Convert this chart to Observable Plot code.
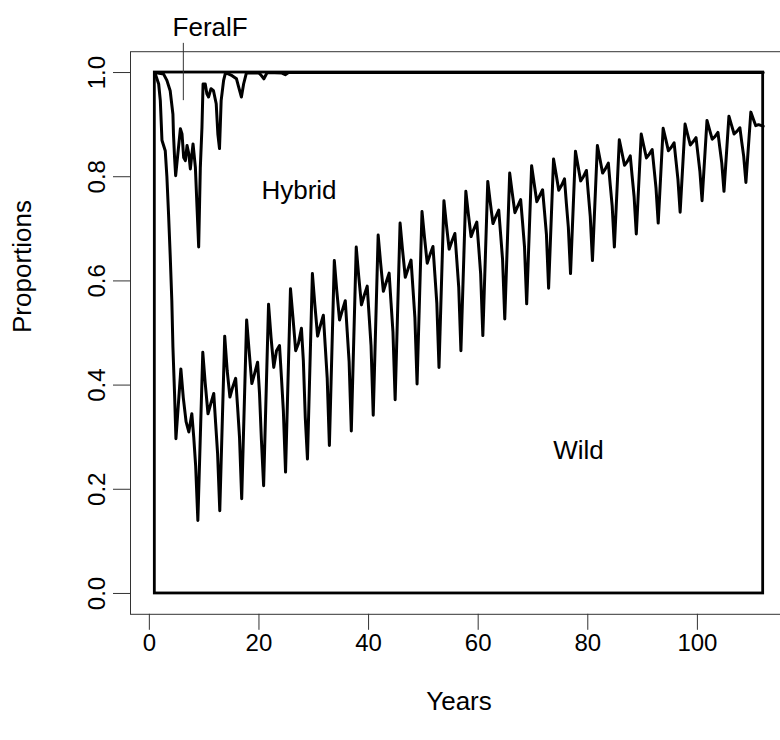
<!DOCTYPE html>
<html>
<head>
<meta charset="utf-8">
<script src="https://cdn.jsdelivr.net/npm/d3@7"></script>
<script src="https://cdn.jsdelivr.net/npm/@observablehq/plot@0.6"></script>
<style>
html, body { margin: 0; padding: 0; background: #fff; overflow: hidden; }
#chart svg { display: block; }
</style>
</head>
<body>
<div id="chart"></div>
<script>
// Tick labels
const xTicks = [0, 20, 40, 60, 80, 100];
const yTicks = [0, 0.2, 0.4, 0.6, 0.8, 1.0];

// Wild proportion: initial decline
const leadYear = [1, 1.7, 2.0, 2.3, 2.9, 3.2, 3.5, 3.8, 4.1, 4.3, 4.6];
const leadVal  = [1.0, 0.978, 0.946, 0.87, 0.85, 0.80, 0.729, 0.65, 0.562, 0.473, 0.383];

// Wild proportion: 4-year cycles (trough, then peak and the steps after it)
const troughYear = [4.85, 8.85, 12.85, 16.85, 20.85, 24.85, 28.85, 32.85, 36.85, 40.85, 44.85, 48.85, 52.85, 56.85, 60.85, 64.85, 68.85, 72.85, 76.85, 80.85, 84.85, 88.85, 92.85, 96.85, 100.85, 104.85, 108.85];
const troughVal = [0.297, 0.140, 0.159, 0.182, 0.207, 0.233, 0.258, 0.284, 0.312, 0.342, 0.372, 0.402, 0.434, 0.466, 0.495, 0.527, 0.556, 0.586, 0.614, 0.639, 0.665, 0.690, 0.711, 0.732, 0.754, 0.772, 0.789];
const peakVal   = [0.431, 0.463, 0.494, 0.525, 0.555, 0.585, 0.614, 0.639, 0.665, 0.688, 0.711, 0.733, 0.754, 0.772, 0.791, 0.807, 0.821, 0.834, 0.849, 0.860, 0.871, 0.882, 0.893, 0.901, 0.908, 0.916, 0.924];
const dropVal   = [0.375, 0.403, 0.428, 0.466, 0.492, 0.530, 0.554, 0.581, 0.609, 0.634, 0.659, 0.684, 0.708, 0.729, 0.751, 0.770, 0.788, 0.806, 0.822, 0.835, 0.848, 0.860, 0.873, 0.882, 0.891, 0.900];
const dipVal    = [0.330, 0.345, 0.377, 0.403, 0.434, 0.466, 0.494, 0.525, 0.554, 0.580, 0.607, 0.634, 0.661, 0.685, 0.710, 0.731, 0.752, 0.774, 0.792, 0.807, 0.822, 0.836, 0.850, 0.861, 0.872, 0.882];
const recVal    = [0.310, 0.364, 0.396, 0.422, 0.466, 0.480, 0.514, 0.543, 0.572, 0.597, 0.623, 0.650, 0.676, 0.699, 0.723, 0.743, 0.763, 0.783, 0.800, 0.815, 0.829, 0.843, 0.856, 0.867, 0.877, 0.887];
const bumpVal   = [0.345, 0.384, 0.413, 0.444, 0.476, 0.509, 0.534, 0.562, 0.590, 0.615, 0.640, 0.666, 0.691, 0.713, 0.736, 0.756, 0.775, 0.796, 0.812, 0.826, 0.840, 0.852, 0.865, 0.875, 0.885, 0.894];
const fall1Val  = [0.300, 0.326, 0.358, 0.384, 0.415, 0.447, 0.474, 0.503, 0.533, 0.558, 0.585, 0.612, 0.640, 0.664, 0.689, 0.712, 0.733, 0.748, 0.767, 0.784, 0.800, 0.815, 0.830, 0.843, 0.855, 0.866];
const fall2Val  = [0.245, 0.269, 0.300, 0.294, 0.351, 0.338, 0.414, 0.445, 0.476, 0.502, 0.530, 0.558, 0.588, 0.614, 0.641, 0.666, 0.690, 0.703, 0.724, 0.744, 0.762, 0.778, 0.795, 0.811, 0.826, 0.839];
// time after each trough at which peak, drop, dip, rec, bump, fall1, fall2 are sampled
const phaseOffset = [0.9, 1.35, 1.85, 2.35, 2.9, 3.25, 3.6];
// final partial cycle
const tailYear = [110.2, 110.65, 111.15, 112];
const tailVal  = [0.911, 0.898, 0.900, 0.897];

// Upper boundary (Wild + Hybrid), FeralF above it
const upperYear = [1, 2.6, 3.2, 3.8, 4.3, 4.4, 4.6, 4.8, 5.66, 5.96, 6.26, 6.57, 6.88, 7.2, 7.48, 7.97, 8.4, 8.7, 9.0, 9.3, 9.6, 9.8, 10.2, 10.5, 10.8, 11.25, 11.7, 12.2, 12.5, 12.8, 13.1, 13.55, 13.9, 14.5, 15.1, 15.9, 16.3, 16.8, 17.2, 17.7, 20.0, 20.3, 20.9, 21.5, 24.2, 24.8, 25.4, 112];
const upperVal  = [1.0, 0.997, 0.985, 0.965, 0.92, 0.882, 0.837, 0.802, 0.892, 0.882, 0.837, 0.831, 0.86, 0.844, 0.815, 0.863, 0.818, 0.741, 0.665, 0.818, 0.895, 0.978, 0.978, 0.959, 0.953, 0.969, 0.965, 0.94, 0.882, 0.854, 0.946, 0.985, 1.0, 0.997, 0.994, 0.988, 0.972, 0.953, 0.978, 0.999, 0.999, 0.996, 0.988, 1.0, 0.999, 0.996, 1.0, 1.0];

// Annotations
const labelText = ["FeralF", "Hybrid", "Wild"];
const labelX = [11.1, 27.3, 78.3];
const labelY = [1.086, 0.773, 0.274];
const pointerX = [6.2];
const pointerY1 = [0.946];
const pointerY2 = [1.056];

// Build tables
const wild = [];
leadYear.forEach((x, i) => wild.push({x, y: leadVal[i]}));
troughYear.forEach((t, i) => {
  wild.push({x: t, y: troughVal[i]});
  wild.push({x: t + phaseOffset[0], y: peakVal[i]});
  if (i < dropVal.length) {
    const vals = [dropVal[i], dipVal[i], recVal[i], bumpVal[i], fall1Val[i], fall2Val[i]];
    vals.forEach((v, j) => wild.push({x: t + phaseOffset[j + 1], y: v}));
  }
});
tailYear.forEach((x, i) => wild.push({x, y: tailVal[i]}));

const upper = upperYear.map((x, i) => ({x, y: upperVal[i]}));
const box = [{x1: leadYear[0], x2: tailYear[tailYear.length - 1], y1: 0, y2: 1}];
const labels = labelText.map((t, i) => ({t, x: labelX[i], y: labelY[i]}));
const pointer = pointerX.map((x, i) => ({x, y1: pointerY1[i], y2: pointerY2[i]}));

const font = "'Liberation Sans', Arial, Helvetica, sans-serif";

const chart = Plot.plot({
  width: 780,
  height: 740,
  marginLeft: 130,
  marginRight: -7,
  marginTop: 51.2,
  marginBottom: 126.2,
  x: {domain: [-3.44, 116.44]},
  y: {domain: [-0.04, 1.04]},
  style: {fontFamily: font, background: "#fff", color: "#000", overflow: "hidden"},
  marks: [
    Plot.frame({stroke: "#333", strokeWidth: 1}),
    Plot.axisX(xTicks, {tickSize: 16, tickPadding: 4, fontSize: 24, label: null, stroke: "#333", strokeWidth: 1, fill: "#000"}),
    Plot.axisY(yTicks, {tickSize: 17, tickPadding: 9, tickRotate: -90, tickFormat: d3.format(".1f"), fontSize: 24, label: null, stroke: "#333", strokeWidth: 1, fill: "#000"}),
    Plot.rect(box, {x1: "x1", x2: "x2", y1: "y1", y2: "y2", fill: "none", stroke: "#000", strokeWidth: 2.8}),
    Plot.line(wild, {x: "x", y: "y", stroke: "#000", strokeWidth: 3, strokeLinejoin: "round"}),
    Plot.line(upper, {x: "x", y: "y", stroke: "#000", strokeWidth: 3, strokeLinejoin: "round"}),
    Plot.ruleX(pointer, {x: "x", y1: "y1", y2: "y2", stroke: "#333", strokeWidth: 1}),
    Plot.text(labels, {x: "x", y: "y", text: "t", fontSize: 26, fill: "#000"}),
    Plot.text(["Years"], {frameAnchor: "bottom", dy: 96, fontSize: 26, fill: "#000"}),
    Plot.text(["Proportions"], {frameAnchor: "left", dx: -108, rotate: -90, fontSize: 26, fill: "#000"})
  ]
});
document.getElementById("chart").appendChild(chart);
</script>
</body>
</html>
